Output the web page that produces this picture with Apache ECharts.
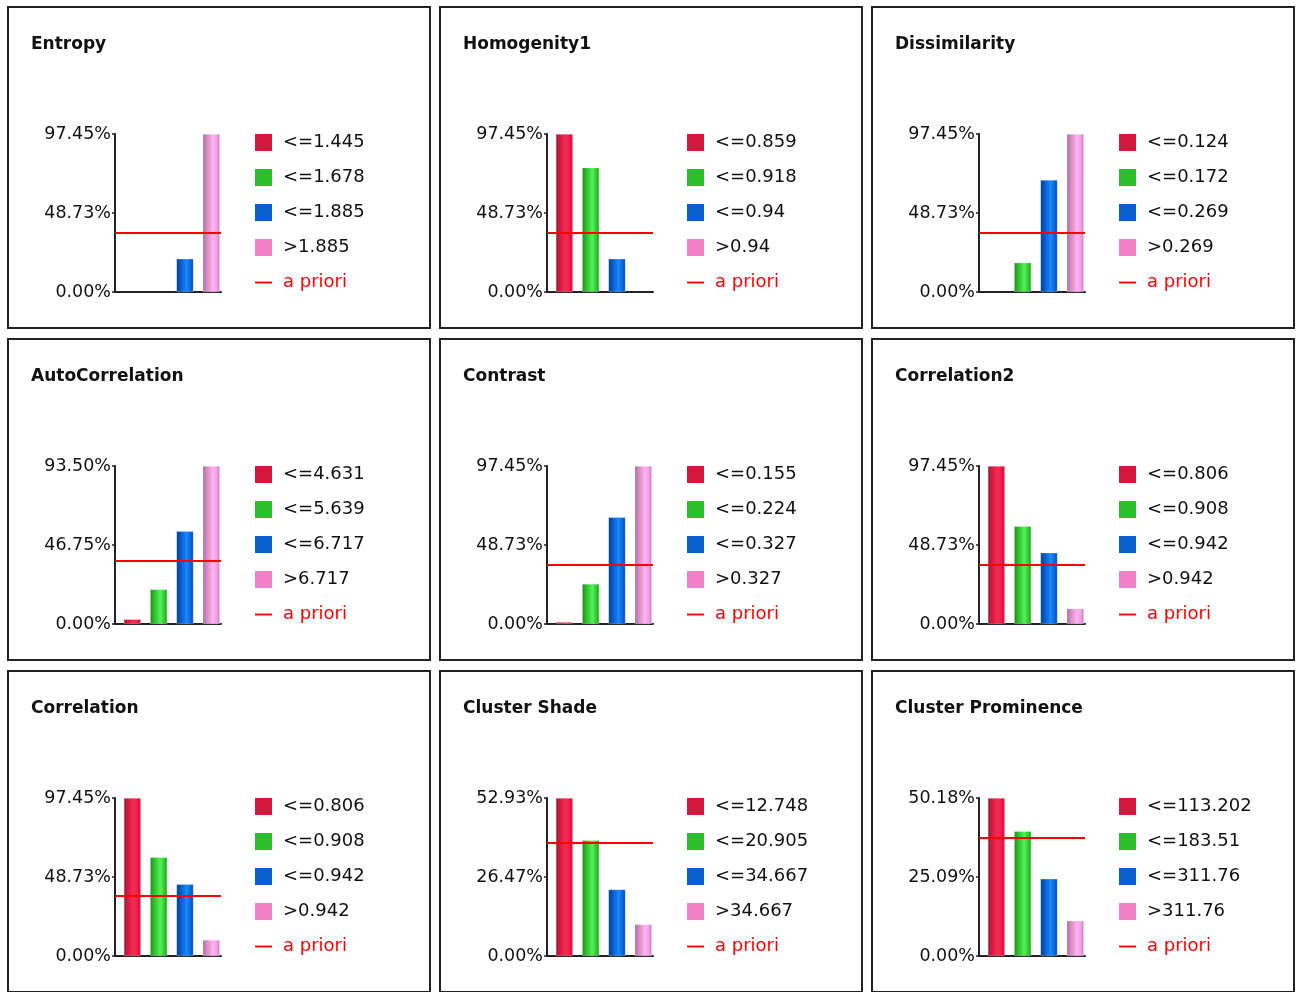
<!DOCTYPE html>
<html>
<head>
<meta charset="utf-8">
<script src="https://cdn.jsdelivr.net/npm/echarts@6/dist/echarts.min.js"></script>
<style>
  html, body { margin: 0; padding: 0; background: #ffffff; }
  #chart { width: 1300px; height: 992px; }
</style>
</head>
<body>
<div id="chart"></div>
<script>
// Texture features: share of the target class in each quartile bin
const titles = ['Entropy', 'Homogenity1', 'Dissimilarity',
                'AutoCorrelation', 'Contrast', 'Correlation2',
                'Correlation', 'Cluster Shade', 'Cluster Prominence'];

const binLabels = [
  ['<=1.445', '<=1.678', '<=1.885', '>1.885'],
  ['<=0.859', '<=0.918', '<=0.94', '>0.94'],
  ['<=0.124', '<=0.172', '<=0.269', '>0.269'],
  ['<=4.631', '<=5.639', '<=6.717', '>6.717'],
  ['<=0.155', '<=0.224', '<=0.327', '>0.327'],
  ['<=0.806', '<=0.908', '<=0.942', '>0.942'],
  ['<=0.806', '<=0.908', '<=0.942', '>0.942'],
  ['<=12.748', '<=20.905', '<=34.667', '>34.667'],
  ['<=113.202', '<=183.51', '<=311.76', '>311.76']
];

const binValues = [
  [0, 0, 20.5, 97.45],
  [97.45, 76.7, 20.5, 0],
  [0, 18.1, 69.1, 97.45],
  [2.8, 20.5, 54.9, 93.50],
  [1.2, 24.7, 65.8, 97.45],
  [97.45, 60.3, 44.0, 9.5],
  [97.45, 60.9, 44.2, 9.9],
  [52.93, 38.8, 22.3, 10.6],
  [50.18, 39.6, 24.5, 11.2]
];

const aPriori = [36.6, 36.6, 36.6, 37.5, 36.8, 36.8, 37.2, 37.8, 37.6];

const axisMax = [97.45, 97.45, 97.45, 93.50, 97.45, 97.45, 97.45, 52.93, 50.18];

const tickLabels = [
  ['0.00%', '48.73%', '97.45%'],
  ['0.00%', '48.73%', '97.45%'],
  ['0.00%', '48.73%', '97.45%'],
  ['0.00%', '46.75%', '93.50%'],
  ['0.00%', '48.73%', '97.45%'],
  ['0.00%', '48.73%', '97.45%'],
  ['0.00%', '48.73%', '97.45%'],
  ['0.00%', '26.47%', '52.93%'],
  ['0.00%', '25.09%', '50.18%']
];

const priorName = 'a priori';

// ---- styling ----
const FONT = '"DejaVu Sans", sans-serif';
const flatColors = ['#d4173c', '#2bbd2b', '#0a5fcf', '#f080c8'];
const barStops = [
  ['#9c1030', '#c8183c', '#ff2a55', '#e01c44', '#a81434'],
  ['#168a16', '#22b022', '#58f058', '#2cc82c', '#1a961a'],
  ['#003a90', '#0050b8', '#1a88ff', '#0a62d8', '#004aa8'],
  ['#a86090', '#cc80b8', '#ffb4f4', '#eea0e0', '#c070a8']
];
function cylinder(stops) {
  return new echarts.graphic.LinearGradient(0, 0, 1, 0, [
    { offset: 0, color: stops[0] },
    { offset: 0.15, color: stops[1] },
    { offset: 0.6, color: stops[2] },
    { offset: 0.85, color: stops[3] },
    { offset: 1, color: stops[4] }
  ]);
}

const colLeft = [8, 440, 872];
const rowTop = [7, 339, 671];
const BOX_W = 422, BOX_H = 321;

const grids = [], xAxes = [], yAxes = [], series = [], legends = [], titleList = [], graphics = [];

titles.forEach((name, p) => {
  const bx = colLeft[p % 3];
  const by = rowTop[Math.floor(p / 3)];

  graphics.push({
    type: 'rect', silent: true,
    shape: { x: bx, y: by, width: BOX_W, height: BOX_H },
    style: { fill: 'none', stroke: '#222', lineWidth: 2 }
  });

  titleList.push({
    text: name, left: bx + 23, top: by + 29, padding: 0,
    textStyle: { fontFamily: FONT, fontSize: 17, fontWeight: 'bold', color: '#111' }
  });

  grids.push({ left: bx + 107, top: by + 127, width: 106, height: 158, containLabel: false });

  xAxes.push({
    type: 'value', gridIndex: p, min: -0.66, max: 3.37,
    axisLine: { show: true, onZero: true, lineStyle: { color: '#222', width: 2 } },
    axisTick: { show: false }, axisLabel: { show: false }, splitLine: { show: false }
  });

  const ticks = tickLabels[p];
  const step = axisMax[p] / 2;
  yAxes.push({
    type: 'value', gridIndex: p, min: 0, max: axisMax[p], interval: step,
    axisLine: { show: true, onZero: false, lineStyle: { color: '#222', width: 2 } },
    axisTick: { show: true, length: 3, lineStyle: { color: '#222', width: 1.5 } },
    axisLabel: {
      fontFamily: FONT, fontSize: 17.5, color: '#111', margin: 4, padding: [3, 0, 0, 0],
      formatter: v => ticks[Math.round(v / step)] || ''
    },
    splitLine: { show: false }
  });

  binLabels[p].forEach((lab, i) => {
    series.push({
      type: 'bar', name: lab, xAxisIndex: p, yAxisIndex: p,
      barWidth: 17, barGap: '-100%',
      itemStyle: { color: cylinder(barStops[i]), borderColor: 'rgba(255,255,255,0.5)', borderWidth: 0.5 },
      data: binValues[p][i] > 0 ? [[i, binValues[p][i]]] : []
    });
  });

  series.push({
    type: 'line', name: priorName, xAxisIndex: p, yAxisIndex: p, z: 5,
    data: [],
    markLine: {
      silent: true, symbol: 'none', label: { show: false },
      lineStyle: { color: '#ff0000', width: 2, type: 'solid' },
      data: [{ yAxis: aPriori[p] }]
    }
  });

  const legendData = binLabels[p].map((lab, i) => ({
    name: lab, icon: 'rect', itemStyle: { color: flatColors[i], borderWidth: 0 }
  }));
  legendData.push({
    name: priorName, icon: 'path://M0,0H18V2H0Z',
    itemStyle: { color: '#ff0000', borderWidth: 0 },
    textStyle: { color: '#ff0000' }
  });
  legends.push({
    orient: 'vertical', left: bx + 247, top: by + 126.5, padding: 0,
    itemWidth: 17, itemHeight: 17, itemGap: 17, selectedMode: false,
    textStyle: { fontFamily: FONT, fontSize: 18, color: '#111', lineHeight: 16, padding: [0, 0, 0, 6] },
    data: legendData
  });
});

const chart = echarts.init(document.getElementById('chart'));
chart.setOption({
  animation: false,
  backgroundColor: '#ffffff',
  title: titleList,
  grid: grids,
  xAxis: xAxes,
  yAxis: yAxes,
  legend: legends,
  series: series,
  graphic: graphics
});
</script>
</body>
</html>
